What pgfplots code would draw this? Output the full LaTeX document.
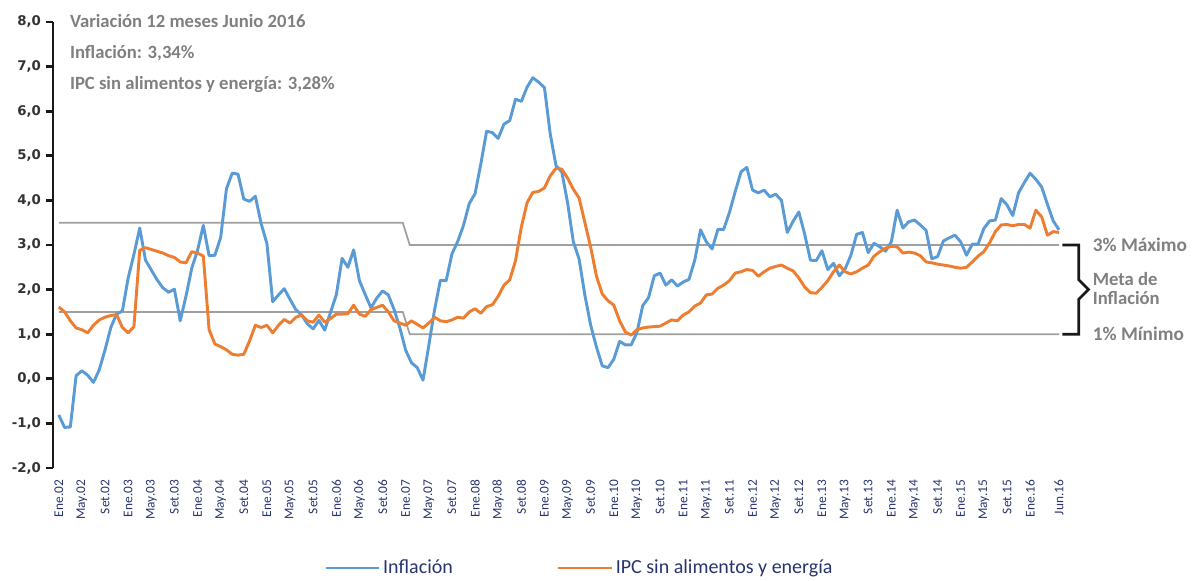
\documentclass[border=0pt]{standalone}
\usepackage{fontspec}
\setmainfont{Carlito}
\newfontfamily\numfont{DejaVu Sans}
\usepackage{pgfplots}
\pgfplotsset{compat=1.18}
\definecolor{cblue}{RGB}{91,155,213}
\definecolor{corange}{RGB}{237,125,49}
\definecolor{cgrayline}{RGB}{160,160,160}
\definecolor{ctext}{RGB}{128,128,128}
\definecolor{cnavy}{RGB}{40,52,110}

\pgfplotstableread{
i v
0 -0.81
1 -1.09
2 -1.08
3 0.07
4 0.18
5 0.08
6 -0.08
7 0.20
8 0.65
9 1.15
10 1.45
11 1.52
12 2.26
13 2.79
14 3.38
15 2.66
16 2.44
17 2.22
18 2.04
19 1.94
20 2.01
21 1.30
22 1.85
23 2.48
24 2.88
25 3.44
26 2.76
27 2.77
28 3.17
29 4.26
30 4.61
31 4.59
32 4.03
33 3.98
34 4.09
35 3.48
36 3.03
37 1.73
38 1.88
39 2.02
40 1.78
41 1.55
42 1.43
43 1.23
44 1.12
45 1.31
46 1.09
47 1.49
48 1.88
49 2.70
50 2.50
51 2.89
52 2.20
53 1.89
54 1.59
55 1.81
56 1.97
57 1.88
58 1.55
59 1.14
60 0.64
61 0.36
62 0.25
63 -0.03
64 0.75
65 1.55
66 2.21
67 2.20
68 2.80
69 3.08
70 3.44
71 3.93
72 4.15
73 4.82
74 5.55
75 5.52
76 5.39
77 5.71
78 5.79
79 6.27
80 6.22
81 6.54
82 6.75
83 6.65
84 6.53
85 5.49
86 4.78
87 4.64
88 3.95
89 3.07
90 2.68
91 1.87
92 1.20
93 0.71
94 0.29
95 0.25
96 0.44
97 0.84
98 0.76
99 0.76
100 1.04
101 1.64
102 1.82
103 2.31
104 2.37
105 2.10
106 2.22
107 2.08
108 2.17
109 2.23
110 2.66
111 3.34
112 3.07
113 2.91
114 3.35
115 3.35
116 3.73
117 4.20
118 4.64
119 4.74
120 4.23
121 4.17
122 4.23
123 4.08
124 4.14
125 4.00
126 3.28
127 3.53
128 3.74
129 3.25
130 2.66
131 2.65
132 2.87
133 2.45
134 2.59
135 2.31
136 2.46
137 2.77
138 3.24
139 3.28
140 2.83
141 3.04
142 2.96
143 2.86
144 3.07
145 3.78
146 3.38
147 3.52
148 3.56
149 3.45
150 3.33
151 2.69
152 2.74
153 3.09
154 3.16
155 3.22
156 3.07
157 2.77
158 3.02
159 3.02
160 3.37
161 3.54
162 3.56
163 4.04
164 3.90
165 3.66
166 4.17
167 4.40
168 4.61
169 4.47
170 4.30
171 3.91
172 3.54
173 3.34
}\inflacion

\pgfplotstableread{
i v
0 1.61
1 1.50
2 1.30
3 1.14
4 1.10
5 1.03
6 1.20
7 1.32
8 1.38
9 1.42
10 1.44
11 1.15
12 1.03
13 1.17
14 2.88
15 2.94
16 2.90
17 2.86
18 2.82
19 2.76
20 2.72
21 2.62
22 2.60
23 2.85
24 2.82
25 2.75
26 1.10
27 0.78
28 0.72
29 0.65
30 0.55
31 0.53
32 0.55
33 0.85
34 1.20
35 1.15
36 1.20
37 1.03
38 1.20
39 1.33
40 1.25
41 1.38
42 1.43
43 1.30
44 1.27
45 1.43
46 1.27
47 1.35
48 1.45
49 1.45
50 1.46
51 1.65
52 1.45
53 1.40
54 1.55
55 1.60
56 1.65
57 1.50
58 1.30
59 1.25
60 1.20
61 1.30
62 1.22
63 1.14
64 1.25
65 1.38
66 1.30
67 1.28
68 1.32
69 1.38
70 1.36
71 1.50
72 1.57
73 1.47
74 1.62
75 1.66
76 1.85
77 2.10
78 2.22
79 2.65
80 3.40
81 3.95
82 4.18
83 4.20
84 4.28
85 4.55
86 4.72
87 4.70
88 4.50
89 4.25
90 4.05
91 3.50
92 2.95
93 2.30
94 1.90
95 1.75
96 1.65
97 1.30
98 1.05
99 0.98
100 1.10
101 1.14
102 1.16
103 1.17
104 1.18
105 1.25
106 1.32
107 1.30
108 1.43
109 1.50
110 1.63
111 1.70
112 1.88
113 1.90
114 2.03
115 2.10
116 2.20
117 2.37
118 2.40
119 2.45
120 2.43
121 2.30
122 2.40
123 2.48
124 2.52
125 2.55
126 2.48
127 2.42
128 2.26
129 2.06
130 1.93
131 1.92
132 2.05
133 2.20
134 2.40
135 2.55
136 2.40
137 2.35
138 2.40
139 2.48
140 2.55
141 2.75
142 2.85
143 2.93
144 2.97
145 2.96
146 2.82
147 2.84
148 2.82
149 2.76
150 2.62
151 2.60
152 2.57
153 2.55
154 2.53
155 2.50
156 2.48
157 2.50
158 2.62
159 2.75
160 2.85
161 3.05
162 3.30
163 3.45
164 3.46
165 3.43
166 3.46
167 3.46
168 3.38
169 3.78
170 3.63
171 3.22
172 3.30
173 3.28
}\subyacente

\begin{document}
\begin{tikzpicture}
\useasboundingbox (-39.75pt,-84.75pt) rectangle (858.75pt,351pt);
\begin{axis}[
  at={(0pt,0pt)}, anchor=south west,
  scale only axis, width=754.5pt, height=334.5pt,
  xmin=-1, xmax=173, ymin=-2, ymax=8,
  clip=false,
  axis lines*=left,
  x axis line style={draw=none},
  y axis line style={line width=2.2pt, black!90},
  ytick={-2,-1,0,1,2,3,4,5,6,7,8},
  ytick style={line width=2pt, black!90},
  tick align=outside,
  major tick length=5.5pt,
  yticklabel style={/pgf/number format/fixed, /pgf/number format/fixed zerofill,
    /pgf/number format/precision=1, /pgf/number format/use comma,
    /pgf/number format/assume math mode=true,
    font=\numfont\bfseries\fontsize{10}{12}\selectfont, text=black!80},
  xtick={0,4,8,12,16,20,24,28,32,36,40,44,48,52,56,60,64,68,72,76,80,84,88,92,96,100,104,108,112,116,120,124,128,132,136,140,144,148,152,156,160,164,168,173},
  xticklabels={Ene.02,May.02,Set.02,Ene.03,May.03,Set.03,Ene.04,May.04,Set.04,Ene.05,May.05,Set.05,Ene.06,May.06,Set.06,Ene.07,May.07,Set.07,Ene.08,May.08,Set.08,Ene.09,May.09,Set.09,Ene.10,May.10,Set.10,Ene.11,May.11,Set.11,Ene.12,May.12,Set.12,Ene.13,May.13,Set.13,Ene.14,May.14,Set.14,Ene.15,May.15,Set.15,Ene.16,Jun.16},
  xtick style={draw=none},
  xticklabel style={rotate=90, anchor=east, font=\fontsize{10}{11}\selectfont, text=cnavy},
  legend style={at={(0.2654,-0.2242)}, anchor=west, draw=none, fill=none,
    legend columns=2, font=\fontsize{15}{17}\selectfont, text=cnavy,
    /tikz/every even column/.append style={column sep=76pt}},
  legend image code/.code={\draw[#1] (0pt,0pt) -- (40pt,0pt);},
]
\addplot[cgrayline, line width=1.3pt, forget plot] coordinates {(0,3.5)(59.5,3.5)(60.7,3)(173,3)};
\addplot[cgrayline, line width=1.3pt, forget plot] coordinates {(0,1.5)(59.5,1.5)(60.7,1)(173,1)};
\addplot[cblue, line width=2.2pt, line join=round] table[x=i, y=v] {\inflacion};
\addlegendentry{Inflación}
\addplot[corange, line width=2.2pt, line join=round] table[x=i, y=v] {\subyacente};
\addlegendentry{IPC sin alimentos y energía}

\node[anchor=base west, inner sep=0, font=\bfseries\fontsize{14}{16}\selectfont, text=ctext] at (axis cs:1.9,7.881) {Variación 12 meses Junio 2016};
\node[anchor=base west, inner sep=0, font=\bfseries\fontsize{14}{16}\selectfont, text=ctext] at (axis cs:1.9,7.186) {Inflación: 3,34\%};
\node[anchor=base west, inner sep=0, font=\bfseries\fontsize{14}{16}\selectfont, text=ctext] at (axis cs:1.9,6.491) {IPC sin alimentos y energía: 3,28\%};

\draw[black!90, line width=2pt] (axis cs:173.6,3) -- (axis cs:176.4,3) -- (axis cs:176.4,2.22) -- (axis cs:178.1,2.0) -- (axis cs:176.4,1.78) -- (axis cs:176.4,1) -- (axis cs:173.6,1);

\node[anchor=base west, inner sep=0, font=\bfseries\fontsize{14.5}{16}\selectfont, text=ctext] at (axis cs:178.8,2.843) {3\% Máximo};
\node[anchor=base west, inner sep=0, font=\bfseries\fontsize{14}{16}\selectfont, text=ctext] at (axis cs:178.8,2.10) {Meta de};
\node[anchor=base west, inner sep=0, font=\bfseries\fontsize{14}{16}\selectfont, text=ctext] at (axis cs:178.8,1.665) {Inflación};
\node[anchor=base west, inner sep=0, font=\bfseries\fontsize{14.5}{16}\selectfont, text=ctext] at (axis cs:178.8,0.848) {1\% Mínimo};
\end{axis}
\end{tikzpicture}
\end{document}
